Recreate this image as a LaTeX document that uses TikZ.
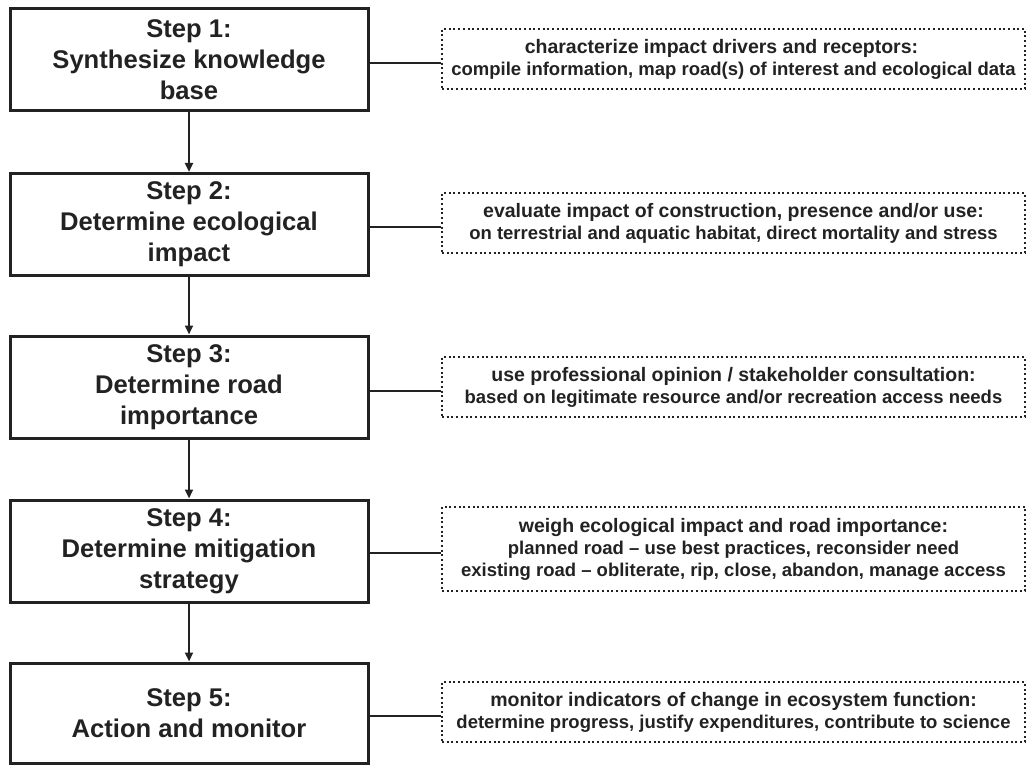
\documentclass[tikz,border=0pt]{standalone}
\usepackage{fontspec}
\setmainfont{Liberation Sans}
\usetikzlibrary{arrows.meta}
\definecolor{ink}{HTML}{222222}
\newcommand{\headfont}{\fontsize{19.5}{22}\selectfont}
\begin{document}
\begin{tikzpicture}[x=1pt,y=-1pt,
  stepbox/.style={draw=ink, line width=3pt, minimum width=358pt, minimum height=102pt,
    inner sep=0pt, align=center, text=ink, font=\fontsize{25.6}{31}\selectfont\bfseries},
  notebox/.style={draw=ink, line width=2pt, dash pattern=on 2pt off 2.7pt,
    minimum width=583pt, minimum height=60pt, inner sep=0pt, align=center, text=ink,
    font=\fontsize{18.5}{22}\selectfont\bfseries},
  flow/.style={draw=ink, line width=2.5pt, -{Triangle[length=9pt,width=8pt]}},
  link/.style={draw=ink, line width=2.5pt}]
\useasboundingbox (0,0) rectangle (1026,765);

% main steps
\node[stepbox] (b1) at (189,60)    {Step 1:\\Synthesize knowledge\\base};
\node[stepbox] (b2) at (189,224.5) {Step 2:\\Determine ecological\\impact};
\node[stepbox] (b3) at (189,387)   {Step 3:\\Determine road\\importance};
\node[stepbox] (b4) at (189,551)   {Step 4:\\Determine mitigation\\strategy};
\node[stepbox, minimum height=100pt] (b5) at (189,713) {Step 5:\\Action and monitor};

% notes
\node[notebox] (d1) at (733.5,59)  {{\headfont characterize impact drivers and receptors:\hspace*{24pt}}\\compile information, map road(s) of interest and ecological data};
\node[notebox] (d2) at (733.5,223) {{\headfont evaluate impact of construction, presence and/or use:}\\on terrestrial and aquatic habitat, direct mortality and stress};
\node[notebox] (d3) at (733.5,387) {{\headfont use professional opinion / stakeholder consultation:}\\based on legitimate resource and/or recreation access needs};
\node[notebox, minimum height=84pt] (d4) at (733.5,549) {{\headfont weigh ecological impact and road importance:}\\planned road – use best practices, reconsider need\\existing road – obliterate, rip, close, abandon, manage access};
\node[notebox] (d5) at (733.5,712) {{\headfont monitor indicators of change in ecosystem function:}\\determine progress, justify expenditures, contribute to science};

% flow between steps
\draw[flow] (b1) -- (b2);
\draw[flow] (b2) -- (b3);
\draw[flow] (b3) -- (b4);
\draw[flow] (b4) -- (b5);

% links to notes
\foreach \i in {1,...,5}
  \draw[link] ([yshift=-4pt]d\i.west) -- ([yshift=-4pt]d\i.west -| b\i.east);
\end{tikzpicture}
\end{document}
